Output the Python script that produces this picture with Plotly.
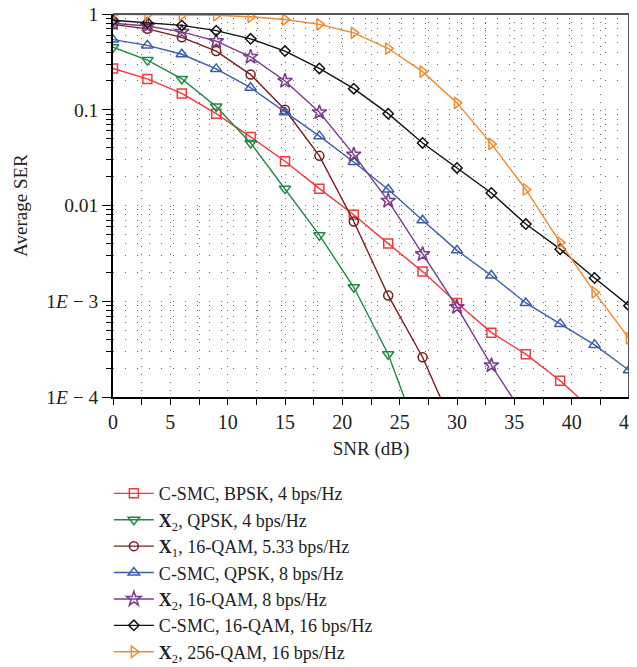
import plotly.graph_objects as go

snr = [0, 3, 6, 9, 12, 15, 18, 21, 24, 27, 30, 33, 36, 39, 42, 45]

ser_csmc_bpsk = [0.27, 0.21, 0.148, 0.091, 0.052, 0.029, 0.015, 0.008, 0.004, 0.00204,
                 0.00096, 0.00047, 0.00028, 0.000148, 0.00007, 0.000035]
ser_x2_qpsk = [0.45, 0.33, 0.21, 0.108, 0.045, 0.015, 0.0049, 0.0014, 0.00028, 0.00003]
ser_x1_16qam = [0.78, 0.70, 0.57, 0.41, 0.233, 0.100, 0.033, 0.0068, 0.00115, 0.00026, 0.00004]
ser_csmc_qpsk = [0.54, 0.47, 0.38, 0.267, 0.17, 0.094, 0.053, 0.0285, 0.0147, 0.0070,
                 0.0034, 0.00186, 0.00096, 0.00058, 0.00035, 0.00019]
ser_x2_16qam = [0.80, 0.75, 0.65, 0.52, 0.357, 0.20, 0.094, 0.034, 0.0112, 0.0031,
                0.00087, 0.000214, 0.00006]
ser_csmc_16qam = [0.86, 0.81, 0.76, 0.67, 0.55, 0.41, 0.27, 0.166, 0.091, 0.045,
                  0.0247, 0.0135, 0.0064, 0.0035, 0.00175, 0.0009]
ser_x2_256qam = [0.99, 0.99, 0.975, 0.97, 0.935, 0.875, 0.78, 0.636, 0.436, 0.25,
                 0.118, 0.044, 0.0147, 0.0041, 0.00124, 0.00041]

names = [
    "C-SMC, BPSK, 4 bps/Hz",
    "<b>X</b><sub>2</sub>, QPSK, 4 bps/Hz",
    "<b>X</b><sub>1</sub>, 16-QAM, 5.33 bps/Hz",
    "C-SMC, QPSK, 8 bps/Hz",
    "<b>X</b><sub>2</sub>, 16-QAM, 8 bps/Hz",
    "C-SMC, 16-QAM, 16 bps/Hz",
    "<b>X</b><sub>2</sub>, 256-QAM, 16 bps/Hz",
]
series = [ser_csmc_bpsk, ser_x2_qpsk, ser_x1_16qam, ser_csmc_qpsk,
          ser_x2_16qam, ser_csmc_16qam, ser_x2_256qam]
colors = ["#f03a3a", "#1f8a45", "#7a1c1c", "#3a5db0", "#7b3a8c", "#111111", "#f5882a"]
symbols = ["square-open", "triangle-down-open", "circle-open", "triangle-up-open",
           "star-open", "diamond-open", "triangle-right-open"]
sizes = [9, 10, 9, 10, 11, 8, 10]

ytick_vals = [1e-4, 1e-3, 1e-2, 1e-1, 1]
ytick_text = ["1<i>E</i> − 4", "1<i>E</i> − 3", "0.01", "0.1", "1"]
yminor = [m * 10 ** e for e in range(-4, 0) for m in range(2, 10)]

fig = go.Figure()
for nm, ys, c, s, sz in zip(names, series, colors, symbols, sizes):
    fig.add_trace(go.Scatter(
        x=snr[:len(ys)], y=ys, name=nm, mode="lines+markers",
        line=dict(color=c, width=1.4),
        marker=dict(symbol=s, size=sz, color=c, line=dict(width=1.5, color=c)),
    ))

font_family = "Liberation Serif, DejaVu Serif, serif"
xdash = "1px,7px"
ydash = "1px,11px"
gcol = "#666"

# the page body has an 8px margin, so the figure is sized to fit the window
fig.update_layout(
    width=629, height=659,
    margin=dict(l=105, r=8, t=6, b=270, autoexpand=False),
    paper_bgcolor="white", plot_bgcolor="white",
    font=dict(family=font_family, size=19, color="#222"),
    showlegend=True,
    legend=dict(
        x=-0.008, y=-0.204, xanchor="left", yanchor="top",
        font=dict(family=font_family, size=18, color="#222"),
        bgcolor="rgba(0,0,0,0)", itemwidth=40, tracegroupgap=0,
    ),
    xaxis=dict(
        range=[0, 45], dtick=5, tick0=0, automargin=False,
        ticklabeloverflow="allow",
        showline=True, linecolor="black", linewidth=1.5,
        ticks="outside", ticklen=6, tickcolor="black", tickwidth=1.2,
        showgrid=True, gridcolor=gcol, griddash=xdash, gridwidth=1,
        zeroline=False,
        minor=dict(dtick=2.5, tick0=0, ticks="outside", ticklen=6, tickcolor="black",
                   showgrid=True, gridcolor=gcol, griddash=xdash),
        title=dict(text="SNR (dB)", font=dict(size=19), standoff=10),
        tickfont=dict(size=20),
    ),
    yaxis=dict(
        type="log", range=[-4, 0], automargin=False,
        ticklabeloverflow="allow",
        tickmode="array", tickvals=ytick_vals, ticktext=ytick_text,
        showline=True, linecolor="black", linewidth=1.5,
        ticks="outside", ticklen=9, tickcolor="black", tickwidth=1.2,
        showgrid=True, gridcolor=gcol, griddash=ydash, gridwidth=1,
        zeroline=False,
        minor=dict(tickmode="array", tickvals=yminor, ticks="outside", ticklen=5,
                   tickcolor="black", showgrid=True, gridcolor=gcol, griddash=ydash),
        title=dict(text="Average SER", font=dict(size=19), standoff=14),
        tickfont=dict(size=19.5),
    ),
)

# top and right frame lines
fig.add_shape(type="line", xref="paper", yref="paper", x0=0, x1=1, y0=1, y1=1,
              line=dict(color="#555", width=2))
fig.add_shape(type="line", xref="paper", yref="paper", x0=1, x1=1, y0=0, y1=1,
              line=dict(color="#555", width=2))

fig.write_html("out.html")
